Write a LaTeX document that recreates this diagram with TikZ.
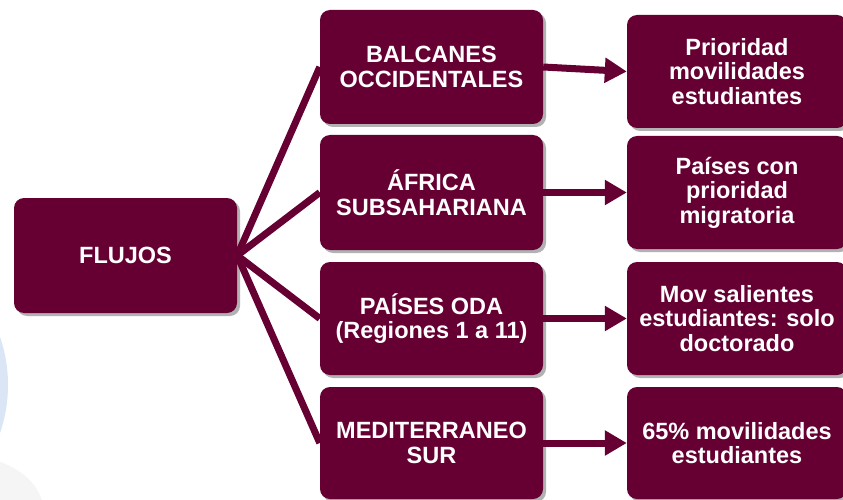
\documentclass[tikz,border=0pt]{standalone}
\usepackage{fontspec}
\setmainfont{Liberation Sans}
\usetikzlibrary{shadows,arrows.meta}
\definecolor{maroon}{RGB}{102,0,51}
\definecolor{arcblue}{RGB}{218,230,245}
\begin{document}
\begin{tikzpicture}[x=1pt,y=-1pt,
  box/.style={draw=none, fill=maroon, rounded corners=10pt, text=white,
    font=\bfseries\fontsize{23.5}{24.5}\selectfont, align=center, inner sep=0pt,
    drop shadow={shadow xshift=3pt, shadow yshift=-3pt, opacity=0.3, fill=black}},
  link/.style={draw=maroon, line width=7pt},
  arr/.style={draw=maroon, line width=7pt, -{Triangle[length=22pt,width=24pt]}}]
\useasboundingbox (0,0) rectangle (843,500);
% background decorations
\begin{scope}
  \clip (0,0) rectangle (843,500);
  \fill[black!4] (-250,437) .. controls (10,437) and (35,470) .. (45,510) -- (-250,510) -- cycle;
  \fill[arcblue] (-140,385) circle (148);
\end{scope}
% nodes
\node[box, minimum width=223pt, minimum height=115pt] (fl) at (125.5,255.5) {FLUJOS};
\node[box, minimum width=223pt, minimum height=114pt] (b1) at (431.5,67) {BALCANES\\OCCIDENTALES};
\node[box, minimum width=223pt, minimum height=115pt] (b2) at (431.5,192.5) {ÁFRICA\\SUBSAHARIANA};
\node[box, minimum width=223pt, minimum height=113pt] (b3) at (431.5,318.5) {PAÍSES ODA\\(Regiones 1 a 11)};
\node[box, minimum width=223pt, minimum height=112pt] (b4) at (431.5,443) {MEDITERRANEO\\SUR};
\node[box, minimum width=220pt, minimum height=113pt] (r1) at (737,71.5) {Prioridad\\movilidades\\estudiantes};
\node[box, minimum width=220pt, minimum height=113pt] (r2) at (737,192.5) {Países con\\prioridad\\migratoria};
\node[box, minimum width=220pt, minimum height=113pt] (r3) at (737,318.5) {Mov salientes\\estudiantes: solo\\doctorado};
\node[box, minimum width=220pt, minimum height=112pt] (r4) at (737,443) {65\% movilidades\\estudiantes};
% connectors
\foreach \b in {b1,b2,b3,b4} \draw[link] (fl.east) -- (\b.west);
\draw[arr] (b1.east) -- (r1.west);
\draw[arr] (b2.east) -- (r2.west);
\draw[arr] (b3.east) -- (r3.west);
\draw[arr] (b4.east) -- (r4.west);
\end{tikzpicture}
\end{document}
